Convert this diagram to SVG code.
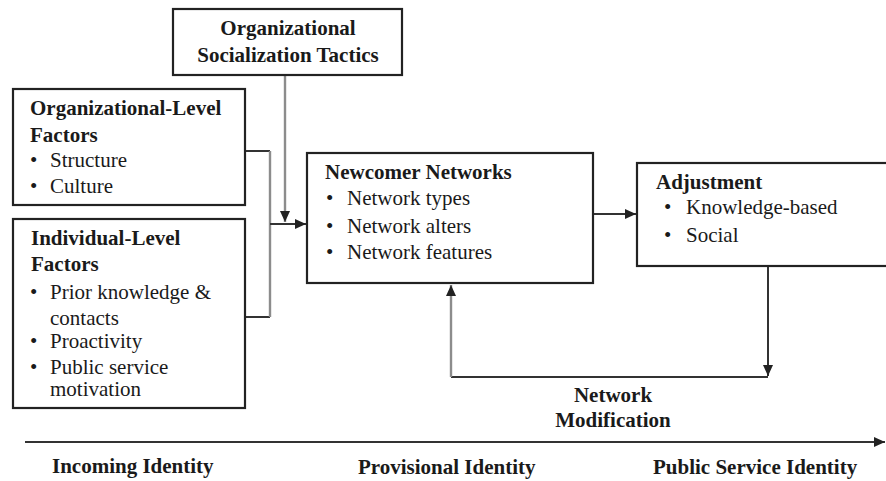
<svg xmlns="http://www.w3.org/2000/svg" width="886" height="481" viewBox="0 0 886 481">
<style>
.box{fill:#fff;stroke:#222;stroke-width:2.2}
.t{font-family:"Liberation Serif","Times New Roman",serif;font-size:21px;fill:#1a1a1a}
.b{font-weight:bold}
.c{text-anchor:middle}
.dk{fill:none;stroke:#333;stroke-width:2}
.lt{fill:none;stroke:#8c8c8c;stroke-width:2.4}
</style>
<defs>
<marker id="ah" markerUnits="userSpaceOnUse" markerWidth="12" markerHeight="12" viewBox="0 0 12 12" refX="11" refY="6" orient="auto">
<path d="M0,1 L11,6 L0,11 Z" fill="#222"/>
</marker>
</defs>
<rect width="886" height="481" fill="#fff"/>
<g id="connectors">
<polyline class="dk" points="245,151 270,151"/>
<polyline class="dk" points="245,317 270,317"/>
<polyline class="lt" points="270,151 270,317"/>
<polyline class="dk" points="270,224 306,224" marker-end="url(#ah)"/>
<polyline class="lt" points="285,75 285,222" marker-end="url(#ah)"/>
<polyline class="dk" points="593,214 636,214" marker-end="url(#ah)"/>
<polyline class="dk" points="768,266 768,376" marker-end="url(#ah)"/>
<polyline class="dk" points="768,377 451,377"/>
<polyline class="lt" points="451,377 451,285" marker-end="url(#ah)"/>
<polyline class="dk" points="25,442 885,442" marker-end="url(#ah)"/>
</g>
<g id="tactics">
<rect class="box" x="173" y="9" width="229" height="66"/>
<text class="t b c" x="288" y="35">Organizational</text>
<text class="t b c" x="288" y="62">Socialization Tactics</text>
</g>
<g id="org-level">
<rect class="box" x="13" y="89" width="232" height="116"/>
<text class="t b" x="30" y="115">Organizational-Level</text>
<text class="t b" x="30" y="142">Factors</text>
<text class="t" x="30" y="167">•</text><text class="t" x="50" y="167">Structure</text>
<text class="t" x="30" y="193">•</text><text class="t" x="50" y="193">Culture</text>
</g>
<g id="individual-level">
<rect class="box" x="13" y="219" width="232" height="189"/>
<text class="t b" x="31" y="245">Individual-Level</text>
<text class="t b" x="31" y="271">Factors</text>
<text class="t" x="30" y="299">•</text><text class="t" x="50" y="299">Prior knowledge &amp;</text>
<text class="t" x="50" y="325">contacts</text>
<text class="t" x="30" y="348">•</text><text class="t" x="50" y="348">Proactivity</text>
<text class="t" x="30" y="374">•</text><text class="t" x="50" y="374">Public service</text>
<text class="t" x="50" y="396">motivation</text>
</g>
<g id="newcomer">
<rect class="box" x="307" y="153" width="286" height="130"/>
<text class="t b" x="325" y="179">Newcomer Networks</text>
<text class="t" x="326" y="205">•</text><text class="t" x="347" y="205">Network types</text>
<text class="t" x="326" y="233">•</text><text class="t" x="347" y="233">Network alters</text>
<text class="t" x="326" y="259">•</text><text class="t" x="347" y="259">Network features</text>
</g>
<g id="adjustment">
<rect class="box" x="637" y="163" width="252" height="103"/>
<text class="t b" x="656" y="189">Adjustment</text>
<text class="t" x="664" y="214">•</text><text class="t" x="686" y="214">Knowledge-based</text>
<text class="t" x="664" y="242">•</text><text class="t" x="686" y="242">Social</text>
</g>
<g id="network-modification">
<text class="t b c" x="613" y="402">Network</text>
<text class="t b c" x="613" y="427">Modification</text>
</g>
<g id="timeline-labels">
<text class="t b" x="52" y="473">Incoming Identity</text>
<text class="t b" x="358" y="474">Provisional Identity</text>
<text class="t b" x="653" y="474">Public Service Identity</text>
</g>
</svg>
